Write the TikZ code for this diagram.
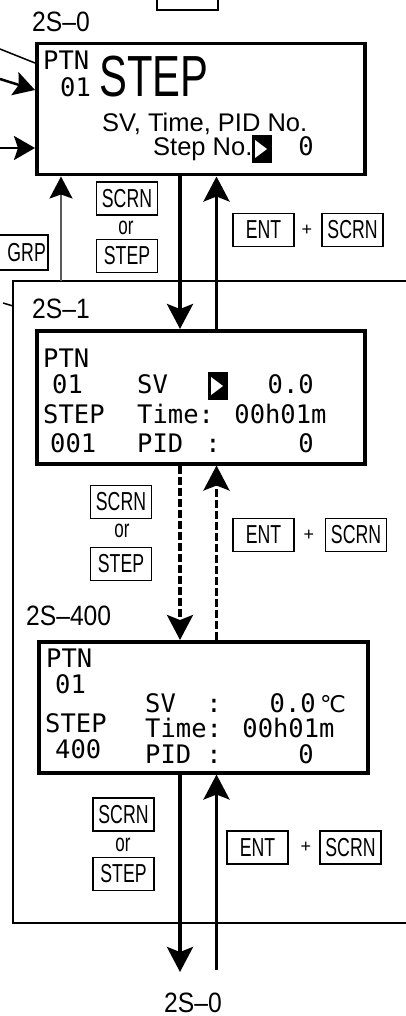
\documentclass[tikz,border=0pt]{standalone}
\usepackage{fontspec}
\setmainfont{Liberation Sans}
\newfontfamily\fkey{Liberation Sans}[FakeStretch=0.68]
\newfontfamily\flbl{Liberation Sans}[FakeStretch=0.88]
\newfontfamily\fbig{Liberation Sans}[FakeStretch=0.72]
\newfontfamily\flcd{DejaVu Sans Mono}
\newfontfamily\fsym{DejaVu Sans}
\usetikzlibrary{arrows.meta}
\newcommand{\mkr}[2]{\fill (#1,#2) rectangle ++(20,28); \fill[white] (#1+3,#2+5) -- (#1+15,#2+14) -- (#1+3,#2+23) -- cycle;}
\begin{document}
\begin{tikzpicture}[x=1pt,y=-1pt,
  lcdbox/.style={draw, line width=3.5pt, inner sep=0pt, anchor=north west},
  keybox/.style={draw, line width=1.6pt, inner sep=0pt, minimum height=33pt, minimum width=61pt, font=\fkey\fontsize{26}{26}\selectfont},
  ortext/.style={inner sep=0pt, font=\fkey\fontsize{25}{25}\selectfont},
  plustext/.style={inner sep=0pt, font=\fontsize{18}{18}\selectfont},
  lcd/.style={inner sep=0pt, anchor=base west, font=\flcd\fontsize{25.5}{26}\selectfont},
  lcdr/.style={lcd, anchor=base east},
  txt/.style={inner sep=0pt, anchor=base west, font=\fontsize{25.5}{26}\selectfont},
  lbl/.style={inner sep=0pt, anchor=base west, font=\flbl\fontsize{28}{28}\selectfont},
  arr/.style={line width=3.5pt, -{Stealth[length=25pt,width=26pt,inset=5pt]}},
  arrl/.style={line width=2.5pt, -{Stealth[length=21pt,width=24pt,inset=4pt]}},
  garr/.style={line width=2pt, draw=black!65, -{Stealth[length=22pt,width=23pt,inset=4pt,black]}},
  dashedline/.style={dash pattern=on 8pt off 3pt},
  frame/.style={line width=1.5pt}
]
\useasboundingbox (0,0) rectangle (406,1016);
\clip (0,0) rectangle (406,1016);

% ---------- labels ----------
\node[lbl] (l0) at (32,32) {2S–0};
\node[lbl] (l1) at (32,318) {2S–1};
\node[lbl] (l2) at (26,625) {2S–400};
\node[inner sep=0pt, anchor=base, font=\flbl\fontsize{28}{28}\selectfont] (l3) at (193,1012) {2S–0};

% ---------- top cut key ----------
\node[draw, line width=1.6pt, minimum width=61pt, minimum height=30pt, anchor=south] (ktop) at (187.5,11) {};

% ---------- frame ----------
\draw[frame] (410,281) -| (13,923) -- (410,923);
\draw[frame] (3,303) -- (13,306);

% ---------- box 1 ----------
\node[lcdbox, minimum width=328pt, minimum height=131pt] (b1) at (35,42) {};
\node[lcd] (b1a) at (43,70) {PTN};
\node[lcd] (b1b) at (60,97) {01};
\node[inner sep=0pt, anchor=base west, font=\fbig\fontsize{58}{58}\selectfont] (b1c) at (99,97) {STEP};
\node[txt] (b1d) at (102,132) {SV, Time, PID No.};
\node[txt] (b1e) at (153,156) {Step No.};
\mkr{252}{135}
\node[lcdr] (b1f) at (314,156) {0};

% ---------- box 2 ----------
\node[lcdbox, minimum width=328pt, minimum height=133pt] (b2) at (35,329) {};
\node[lcd] (b2a) at (43,367) {PTN};
\node[lcd] (b2b) at (52,393) {01};
\node[lcd] (b2c) at (43,423) {STEP};
\node[lcd] (b2d) at (50,452) {001};
\node[lcd] (b2e) at (137,393) {SV};
\mkr{208}{372}
\node[lcdr] (b2f) at (314,393) {0.0};
\node[lcd] (b2g) at (137,423) {Time: 00h01m};
\node[lcd] (b2h) at (137,452) {PID};
\node[lcd, anchor=base] (b2i) at (213,452) {:};
\node[lcdr] (b2j) at (314,452) {0};

% ---------- box 3 ----------
\node[lcdbox, minimum width=329pt, minimum height=131pt] (b3) at (37,640) {};
\node[lcd] (b3a) at (46,667) {PTN};
\node[lcd] (b3b) at (55,693) {01};
\node[lcd] (b3c) at (45,732) {STEP};
\node[lcd] (b3d) at (55,758) {400};
\node[lcd] (b3e) at (145,712) {SV};
\node[lcd, anchor=base] (b3f) at (214,712) {:};
\node[lcdr] (b3g) at (316,712) {0.0};
\node[inner sep=0pt, anchor=base west, font=\fsym\fontsize{23}{23}\selectfont] (b3h) at (320,712) {℃};
\node[lcd] (b3i) at (145,737) {Time: 00h01m};
\node[lcd] (b3j) at (145,763) {PID};
\node[lcd, anchor=base] (b3k) at (214,763) {:};
\node[lcdr] (b3l) at (314,763) {0};

% ---------- keys section 1 ----------
\node[keybox] (k1s) at (127,198.5) {SCRN};
\node[ortext] (k1o) at (126,228) {or};
\node[keybox] (k1t) at (127,256) {STEP};
\node[keybox] (k1e) at (263.5,230) {ENT};
\node[plustext] (k1p) at (307,230) {+};
\node[keybox] (k1r) at (352.5,230) {SCRN};
\node[draw, line width=1.6pt, inner sep=0pt, minimum height=35pt, minimum width=70pt, anchor=east] (kg) at (49,252.5) {};
\node[inner sep=0pt, anchor=east, font=\fkey\fontsize{26}{26}\selectfont] (kgt) at (46,252.5) {GRP};

% ---------- keys section 2 ----------
\node[keybox] (k2s) at (121,502) {SCRN};
\node[ortext] (k2o) at (122,531) {or};
\node[keybox] (k2t) at (121,564) {STEP};
\node[keybox] (k2e) at (263.5,535) {ENT};
\node[plustext] (k2p) at (309,535) {+};
\node[keybox] (k2r) at (356,535) {SCRN};

% ---------- keys section 3 ----------
\node[keybox] (k3s) at (123.5,814.5) {SCRN};
\node[ortext] (k3o) at (123,845) {or};
\node[keybox] (k3t) at (123.5,874) {STEP};
\node[keybox] (k3e) at (257.5,847.5) {ENT};
\node[plustext] (k3p) at (306,847.5) {+};
\node[keybox] (k3r) at (350.5,847.5) {SCRN};

% ---------- connectors ----------
\coordinate (xd) at (180,0);
\coordinate (xu) at (216.5,0);
\coordinate (d4) at (180,972);
\coordinate (u4) at (216.5,970);
\coordinate (g0) at (61,281);
\coordinate (a1) at (0,79);
\coordinate (a1e) at (0,90);
\coordinate (a2) at (0,148);
\coordinate (dl) at (0,49);
\coordinate (dle) at (0,63);

\draw[arr] (xd |- b1.south) -- (xd |- b2.north);
\draw[arr] (xu |- b2.north) -- (xu |- b1.south);
\draw[arr, dashedline] (xd |- b2.south) -- (xd |- b3.north);
\draw[arr, dashedline] (xu |- b3.north) -- (xu |- b2.south);
\draw[arr] (xd |- b3.south) -- (d4);
\draw[arr] (u4) -- (xu |- b3.south);
\draw[garr] (g0) -- (g0 |- b1.south);
\draw[arrl] (a1) -- (b1.west |- a1e);
\draw[arrl] (a2) -- (b1.west |- a2);
\draw[line width=1.5pt] (dl) -- (b1.west |- dle);
\end{tikzpicture}
\end{document}
